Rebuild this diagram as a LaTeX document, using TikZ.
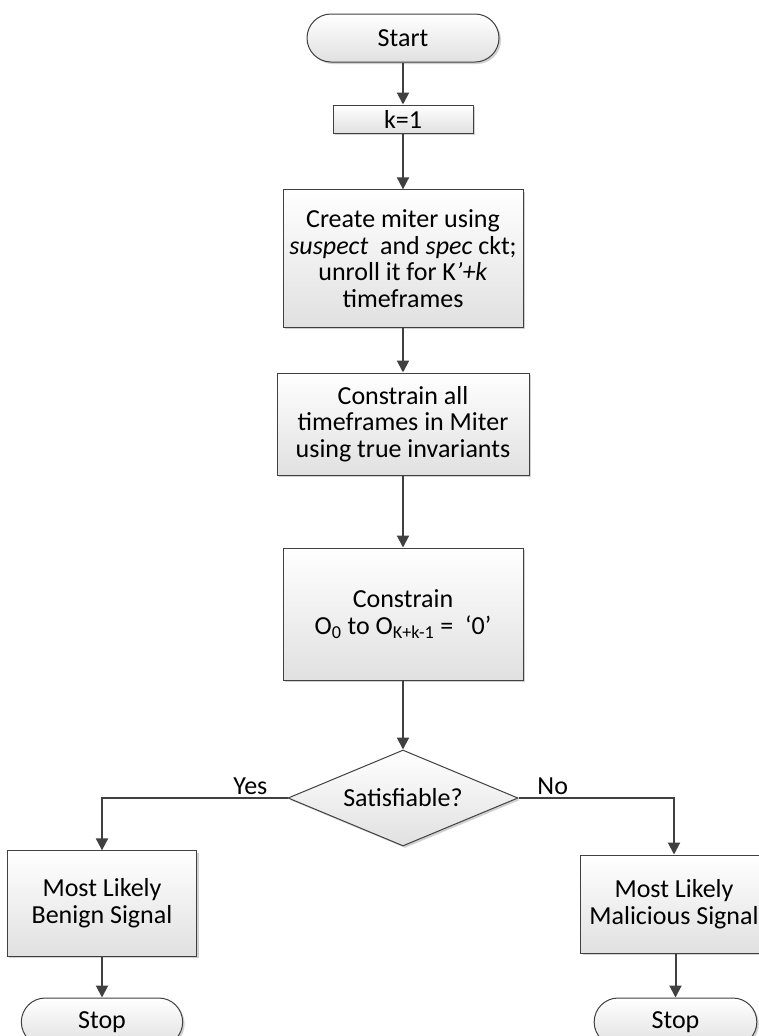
\documentclass[tikz,border=0pt]{standalone}
\usepackage{fontspec}
\setmainfont{Carlito}
\usetikzlibrary{arrows.meta,shapes.geometric,shadows}

\tikzset{
  flowbox/.style={draw=black!75, line width=0.75pt, top color=white, bottom color=black!12,
    align=center, inner sep=2pt,
    drop shadow={shadow xshift=1.5pt, shadow yshift=-1.5pt, fill=black!30, opacity=0.6}},
  termbox/.style={flowbox, rounded corners=18pt, minimum height=36pt},
  decisionbox/.style={flowbox, diamond, aspect=2.4, inner sep=0pt},
  flow/.style={draw=black!75, line width=1.5pt, -{Triangle[length=9pt,width=9pt]}},
  branch/.style={above, inner sep=1.5pt}
}

\begin{document}
\begin{tikzpicture}[x=0.75pt, y=-0.75pt, font=\fontsize{19.5}{20}\selectfont]
  \useasboundingbox (0,0) rectangle (759,1036);
  \clip (0,0) rectangle (759,1036);

  % main column
  \node[termbox, minimum width=144pt] (start) at (403,38) {Start};
  \node[flowbox, minimum width=105pt, minimum height=21pt] (kone) at (403,119) {k=1};
  \node[flowbox, minimum width=180pt, minimum height=103pt] (miter) at (403,258.5)
    {Create miter using\\ \textit{suspect}~ and \textit{spec} ckt;\\ unroll it for K\textit{'+k}\\ timeframes};
  \node[flowbox, minimum width=189pt, minimum height=76.5pt] (invar) at (403,424)
    {Constrain all\\ timeframes in Miter\\ using true invariants};
  \node[flowbox, minimum width=180pt, minimum height=99pt] (zero) at (403,614)
    {Constrain\\ O\textsubscript{0} to O\textsubscript{K+k-1} = ~`0'};
  \node[decisionbox, minimum width=172.5pt, minimum height=72pt] (sat) at (403,798) {Satisfiable?};

  % outcomes
  \node[flowbox, minimum width=142pt, minimum height=79pt] (benign) at (102,903.5)
    {Most Likely\\ Benign Signal};
  \node[flowbox, minimum width=140pt, minimum height=73.5pt] (malic) at (674,904)
    {Most Likely\\ Malicious Signal};
  \node[termbox, minimum width=121pt] (stopa) at (102,1022) {Stop};
  \node[termbox, minimum width=122pt] (stopb) at (675.5,1022) {Stop};

  \draw[flow] (start) -- (kone);
  \draw[flow] (kone) -- (miter);
  \draw[flow] (miter) -- (invar);
  \draw[flow] (invar) -- (zero);
  \draw[flow] (zero) -- (sat);
  \draw[flow] (sat.west) -| node[branch, pos=0.1] {Yes} (benign.north);
  \draw[flow] (sat.east) -| node[branch, pos=0.11] {No} (malic.north);
  \draw[flow] (benign) -- (stopa);
  \draw[flow] (malic.south -| stopb.north) -- (stopb.north);
\end{tikzpicture}
\end{document}
